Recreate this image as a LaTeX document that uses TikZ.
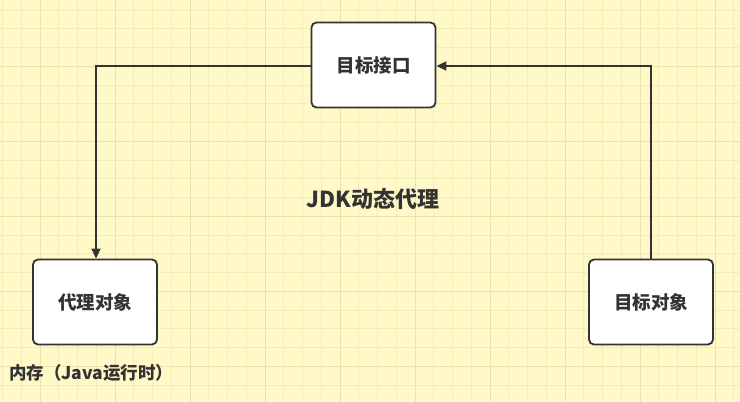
\documentclass[tikz,border=0pt]{standalone}
\usepackage{fontspec}
\newfontfamily\cjk{Noto Sans CJK SC}
\usetikzlibrary{arrows.meta}
\definecolor{bg}{HTML}{FFF9C8}
\definecolor{minor}{HTML}{F3EDB9}
\definecolor{major}{HTML}{EAE2AE}
\definecolor{ln}{HTML}{333333}
\tikzset{box/.style={draw=ln,line width=1.8pt,fill=white,rounded corners=5pt,minimum width=124pt,minimum height=85pt,inner sep=0pt,font=\cjk\bfseries\fontsize{18.5}{21}\selectfont,text=ln},
conn/.style={draw=ln,line width=1.6pt,-{Triangle[length=10pt,width=9pt]}}}
\begin{document}
\begin{tikzpicture}[x=1pt,y=-1pt]
\useasboundingbox (0,0) rectangle (740,402);
\fill[bg] (0,0) rectangle (740,402);
\foreach \i in {0,...,39} {\draw[minor,line width=0.8pt] ({2.5+18.75*\i},0) -- ({2.5+18.75*\i},402);}
\foreach \i in {0,...,21} {\draw[minor,line width=0.8pt] (0,{-8.75+18.75*\i}) -- (740,{-8.75+18.75*\i});}
\foreach \i in {0,...,9} {\draw[major,line width=0.9pt] ({40+75*\i},0) -- ({40+75*\i},402);}
\foreach \i in {0,...,5} {\draw[major,line width=0.9pt] (0,{-9+75*\i}) -- (740,{-9+75*\i});}
\node[box] (iface) at (373.5,65) {目标接口};
\node[box] (proxy) at (95,302) {代理对象};
\node[box] (target) at (651,302) {目标对象};
\coordinate (c1) at (96,66);
\coordinate (c2) at (651,66);
\draw[conn] (iface.west |- c1) -- (c1) -- (proxy.north -| c1);
\draw[conn] (target.north -| c2) -- (c2) -- (iface.east |- c2);
\node[font=\cjk\bfseries\fontsize{22}{26}\selectfont,text=ln] (title) at (373,199) {JDK动态代理};
\node[font=\cjk\bfseries\fontsize{17.5}{20}\selectfont,text=ln,anchor=west,inner sep=0pt] (mem) at (9,373) {内存（Java运行时）};
\end{tikzpicture}
\end{document}
